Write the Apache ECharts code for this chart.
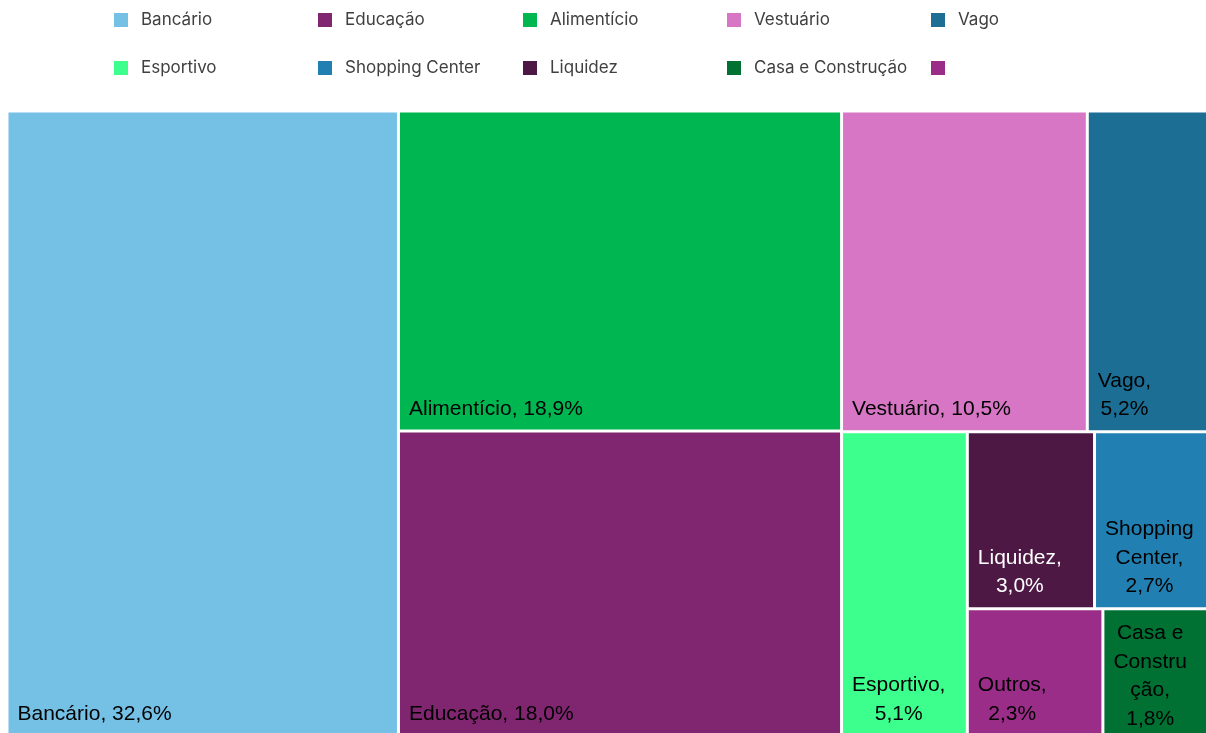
<!DOCTYPE html>
<html>
<head>
<meta charset="utf-8">
<title>Participação por setor</title>
<script src="https://cdn.jsdelivr.net/npm/echarts@6/dist/echarts.min.js"></script>
<style>
  html, body { margin: 0; padding: 0; background: #fff; }
  #chart { width: 1206px; height: 733px; }
</style>
</head>
<body>
<div id="chart"></div>
<script>
// dados na ordem da planilha
var categorias = ['Bancário', 'Educação', 'Alimentício', 'Vestuário', 'Vago', 'Esportivo', 'Shopping Center', 'Liquidez', 'Casa e Construção', 'Outros'];
var participacao = [32.6, 18.0, 18.9, 10.5, 5.2, 5.1, 2.7, 3.0, 1.8, 2.3];
// a legenda original não tem texto para "Outros"
var legendaNomes = ['Bancário', 'Educação', 'Alimentício', 'Vestuário', 'Vago', 'Esportivo', 'Shopping Center', 'Liquidez', 'Casa e Construção', ' '];
// quebras de linha dos rótulos como no Excel
var rotulos = ['Bancário', 'Educação', 'Alimentício', 'Vestuário', 'Vago', 'Esportivo', 'Shopping\nCenter', 'Liquidez', 'Casa e\nConstru\nção', 'Outros'];

var cores = ['#75C1E6', '#80256F', '#00B651', '#D676C5', '#1C6E95', '#3DFF8E', '#2180B1', '#4E1844', '#007033', '#9A2D87'];

// agrupamento para reproduzir o arranjo do treemap do Excel
var blocos = ['Bancário', ['Alimentício', 'Educação'],
    [['Vestuário', 'Vago'], ['Esportivo', [['Liquidez', 'Shopping Center'], ['Outros', 'Casa e Construção']]]]];

var FONTE = 'Liberation Sans';
var TAM = 21, ALT_LINHA = 28.5;
var ctx = document.createElement('canvas').getContext('2d');
ctx.font = TAM + 'px "' + FONTE + '"';

function pct(v) {
    return v.toFixed(1).replace('.', ',') + '%';
}

function escuro(hex) {
    var c = [1, 3, 5].map(function (k) {
        var s = parseInt(hex.substr(k, 2), 16) / 255;
        return s <= 0.03928 ? s / 12.92 : Math.pow((s + 0.055) / 1.055, 2.4);
    });
    return 0.2126 * c[0] + 0.7152 * c[1] + 0.0722 * c[2] < 0.05;
}

function folha(nome) {
    var i = categorias.indexOf(nome);
    var v = participacao[i];
    var texto = rotulos[i] + ',' + (v < 6 ? '\n' : ' ') + pct(v);
    var linhas = texto.split('\n');
    var larg = Math.max.apply(null, linhas.map(function (l) { return ctx.measureText(l).width; }));
    // texto que não cabe na caixa fica preso no topo (como o Excel faz)
    var noTopo = linhas.length >= 4;
    return {
        name: nome,
        value: v,
        itemStyle: { color: cores[i], borderWidth: 1.5, borderColor: '#fff' },
        label: {
            formatter: function () { return texto; },
            position: [9 + larg / 2, noTopo ? 0 : '100%'],
            offset: [0, noTopo ? 9 : -(linhas.length * ALT_LINHA + 6.5)],
            align: 'center',
            verticalAlign: 'top',
            color: escuro(cores[i]) ? '#fff' : '#000'
        }
    };
}

var nGrupo = 0;
function montar(n) {
    if (typeof n === 'string') return folha(n);
    nGrupo++;
    return { name: 'grupo' + nGrupo, children: n.map(montar) };
}

var colunasX = [114, 318, 523, 727, 931];

var myChart = echarts.init(document.getElementById('chart'));
myChart.setOption({
    animation: false,
    legend: colunasX.map(function (x, c) {
        return {
            orient: 'vertical',
            left: x,
            top: 10,
            padding: 0,
            itemGap: 28,
            itemWidth: 14,
            itemHeight: 14,
            icon: 'rect',
            selectedMode: false,
            data: [legendaNomes[c], legendaNomes[c + 5]],
            textStyle: { fontFamily: 'Inter', fontSize: 17, color: '#404040', lineHeight: 20, padding: [0, 0, 0, 8] }
        };
    }),
    series: [
        {
            // só para alimentar a legenda
            type: 'pie',
            radius: [0, 0],
            center: [-50, -50],
            silent: true,
            label: { show: false },
            labelLine: { show: false },
            data: legendaNomes.map(function (n, i) {
                return { name: n, value: participacao[i], itemStyle: { color: cores[i] } };
            })
        },
        {
            type: 'treemap',
            left: 7,
            top: 111,
            width: 1202,
            height: 625,
            sort: false,
            squareRatio: 1,
            roam: false,
            nodeClick: false,
            breadcrumb: { show: false },
            emphasis: { disabled: true },
            itemStyle: { borderWidth: 0, gapWidth: 0, borderColor: '#fff' },
            label: {
                show: true,
                fontFamily: FONTE,
                fontSize: TAM,
                lineHeight: ALT_LINHA,
                padding: 0
            },
            data: blocos.map(montar)
        }
    ]
});
</script>
</body>
</html>
